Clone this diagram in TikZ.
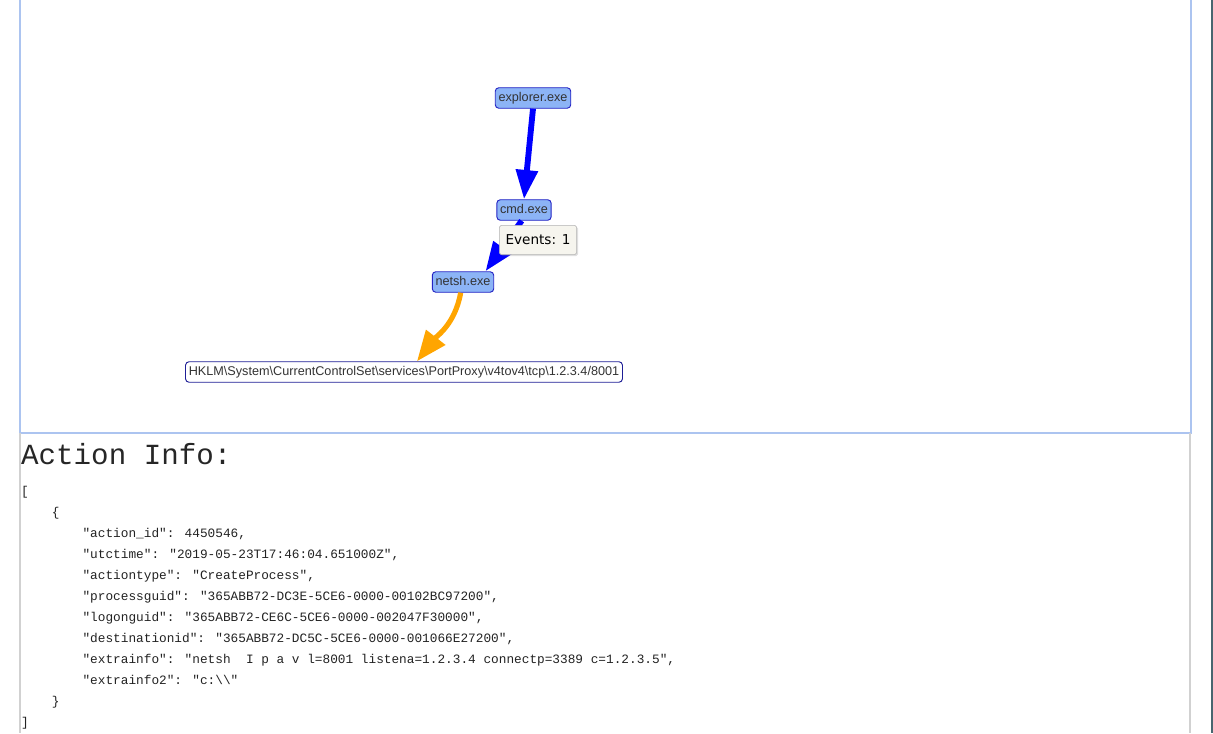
\documentclass[tikz,border=0pt]{standalone}
\usepackage{fontspec}
\setmainfont{Liberation Sans}
\newfontfamily\monofont{Liberation Mono}
\newfontfamily\tipfont{DejaVu Sans}
\usepackage{tikz}
\usetikzlibrary{arrows.meta,calc,shadows}
\definecolor{procfill}{RGB}{140,180,246}
\definecolor{procdraw}{RGB}{36,36,196}
\definecolor{regdraw}{RGB}{30,30,150}
\definecolor{edgeblue}{RGB}{0,0,255}
\definecolor{edgeorange}{RGB}{255,165,0}
\definecolor{framebl}{RGB}{172,196,240}
\definecolor{tipfill}{RGB}{246,245,238}
\definecolor{sidebar}{RGB}{72,102,112}
\definecolor{jsontext}{RGB}{34,34,34}
\tikzset{
  proc/.style={rectangle,rounded corners=3pt,draw=procdraw,fill=procfill,
    line width=0.8pt,font=\fontsize{10.8}{12}\selectfont,text=black!80,
    inner xsep=2.8pt,inner ysep=0pt,minimum height=17.5pt,
    text height=7.9pt,text depth=2.1pt},
  regkey/.style={proc,fill=white,draw=regdraw},
  spawn/.style={-{Triangle[length=25pt,width=18pt]},line width=5pt,
    draw=edgeblue},
  touch/.style={-{Triangle[length=26pt,width=20pt]},line width=4.4pt,
    draw=edgeorange},
  tooltip/.style={rectangle,rounded corners=1.5pt,draw=black!30,
    fill=tipfill,font=\tipfont\fontsize{11.6}{13}\selectfont,
    minimum width=66pt,minimum height=25pt,
    drop shadow={opacity=0.25,shadow xshift=1.2pt,shadow yshift=-1.2pt}},
  heading/.style={font=\monofont\fontsize{24.9}{28}\selectfont,
    text=black!85,inner sep=0pt},
  listing/.style={font=\monofont\fontsize{10.9}{17.93}\selectfont,
    text=jsontext,align=left,inner sep=0pt}
}
\newcommand{\jsind}{\phantom{0000}}
\begin{document}
\begin{tikzpicture}[x=0.03cm,y=-0.03cm]
  \useasboundingbox (0,0) rectangle (1213,733);

  % frames
  \draw[framebl,line width=1.3pt] (20,-2) -- (20,433) -- (1191,433) -- (1191,-2);
  \draw[black!18,line width=0.9pt] (20,433) -- (20,733);
  \draw[black!18,line width=0.9pt] (1190,433) -- (1190,733);
  \draw[sidebar,line width=1.4pt] (1212,0) -- (1212,733);

  % process tree
  \node[proc] (explorer) at (533,98) {explorer.exe};
  \node[proc] (cmd) at (524,210) {cmd.exe};
  \node[proc] (netsh) at (463,282) {netsh.exe};
  \node[regkey] (portproxy) at (404,372)
    {HKLM\textbackslash System\textbackslash CurrentControlSet\textbackslash
     services\textbackslash PortProxy\textbackslash v4tov4\textbackslash
     tcp\textbackslash 1.2.3.4/8001};

  \draw[spawn] (explorer.south) -- (cmd.north);
  \draw[spawn] ([xshift=-2pt]cmd.south) -- ($(netsh.north)!0.72!(netsh.north east)$);
  \draw[touch] ([xshift=-2pt]netsh.south)
    to[out=-100,in=52] ($(portproxy.north)+(13,0)$);

  \node[tooltip] (events) at (538,240) {Events: 1};

  % action info
  \node[heading,anchor=base west] (actioninfo) at (21,464) {Action Info:};
  \node[listing,anchor=north west] (json) at (21,486)
    {[\\
     \jsind\{\\
     \jsind\jsind"action\_id": 4450546,\\
     \jsind\jsind"utctime": "2019-05-23T17:46:04.651000Z",\\
     \jsind\jsind"actiontype": "CreateProcess",\\
     \jsind\jsind"processguid": "365ABB72-DC3E-5CE6-0000-00102BC97200",\\
     \jsind\jsind"logonguid": "365ABB72-CE6C-5CE6-0000-002047F30000",\\
     \jsind\jsind"destinationid": "365ABB72-DC5C-5CE6-0000-001066E27200",\\
     \jsind\jsind"extrainfo": "netsh\ \ I p a v l=8001 listena=1.2.3.4 connectp=3389 c=1.2.3.5",\\
     \jsind\jsind"extrainfo2": "c:\textbackslash\textbackslash"\\
     \jsind\}\\
     ]};
\end{tikzpicture}
\end{document}
